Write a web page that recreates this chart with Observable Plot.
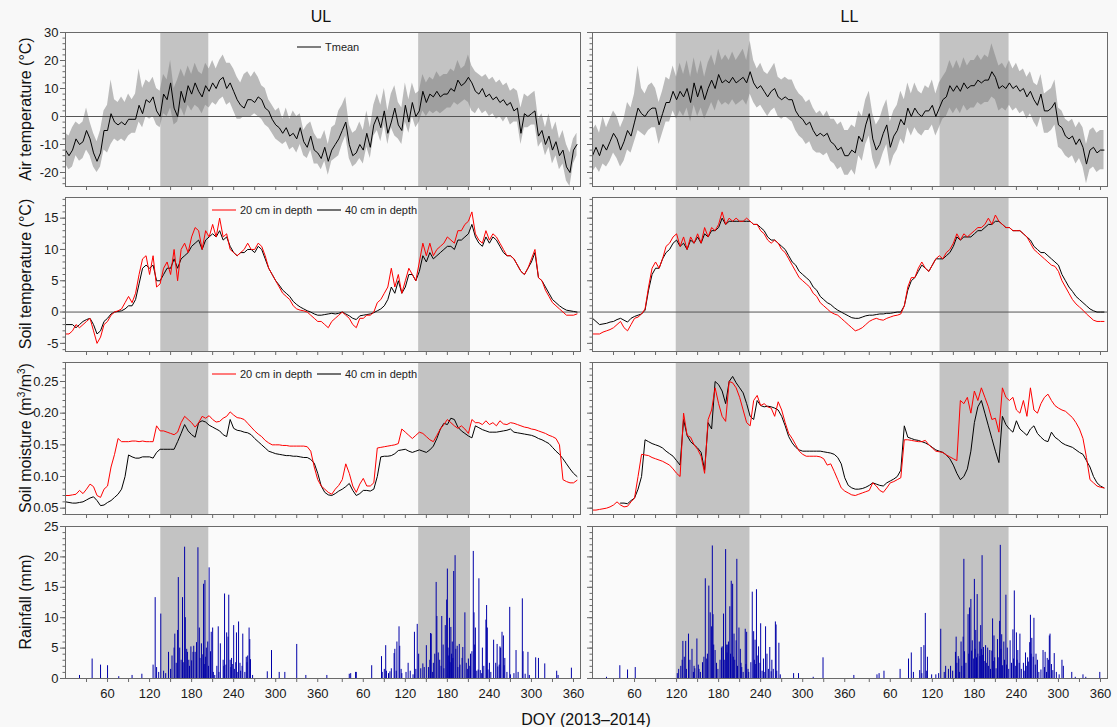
<!DOCTYPE html>
<html><head><meta charset="utf-8">
<script src="https://cdn.jsdelivr.net/npm/d3@7"></script>
<script src="https://cdn.jsdelivr.net/npm/@observablehq/plot@0.6"></script>
<style>
body{margin:0;background:#fff;}
#root{position:relative;width:1117px;height:727px;overflow:hidden;background:#f8f8f8;font-family:"Liberation Sans",Arial,sans-serif;}
</style></head><body><div id="root"></div>
<script>
// ---------------- DATA ----------------
// x = continuous day index: 2013 DOY as-is, 2014 DOY + 365. Series sampled every 5 days (0..730).
const sampleStep = 5;

// Air temperature (°C) – UL
const ulTmean = [-12,-14,-12,-8,-10,-9,-5,-8,-13,-16,-13,-5,-5,1,-2,-3,-2,-3,-1,
 -1,-1,4,1,6,5,7,2,0,8,6,12,3,0,9,5,11,8,12,9,
 7,11,9,12,10,13,14,10,12,9,6,4,3,6,6,5,7,6,3,2,
 -1,-3,-4,-6,-4,-7,-6,-8,-4,-9,-11,-7,-12,-13,-15,-11,-16,-12,-10,-8,
 -5,-2,-10,-14,-13,-10,-12,-6,-11,-3,0,-4,2,-6,-2,3,-3,-5,4,-2,
 5,0,2,9,5,8,7,9,7,8,8,10,9,13,11,12,14,12,9,8,
 10,7,8,6,7,5,6,4,5,2,3,-6,1,0,1,2,-7,-5,-10,-7,
 -12,-9,-14,-12,-18,-20,-12,-10];
const ulTmax = [-6,-7,-4,-2,-3,-2,3,-2,-6,-9,-5,2,4,13,6,5,7,5,8,
 6,8,17,10,13,12,14,10,9,15,13,20,10,13,17,14,18,15,19,16,
 15,19,17,20,17,20,22,19,19,17,14,12,15,16,14,16,14,11,10,6,
 4,2,3,-1,3,-1,2,0,1,-5,-3,-2,-6,-8,-8,-5,-10,-4,-3,2,
 4,7,-3,-6,-5,-2,-5,2,-4,4,8,4,10,2,8,11,5,3,12,6,
 12,8,9,15,12,14,13,16,14,15,15,17,16,20,17,18,22,18,16,15,
 14,15,13,14,12,13,11,12,9,10,9,3,8,7,8,9,-1,1,-4,1,
 -5,-2,-8,-5,-10,-13,-8,-6];
const ulTmin = [-17,-19,-18,-14,-16,-15,-12,-14,-18,-20,-18,-12,-13,-10,-8,-9,-8,-9,-7,
 -6,-6,-2,-4,0,-1,0,-3,-4,1,0,3,-3,-2,3,0,4,2,4,3,
 1,4,3,5,4,6,7,4,5,2,-1,-1,0,0,0,1,0,-1,-3,-4,
 -6,-8,-9,-10,-9,-12,-11,-13,-10,-14,-15,-12,-17,-17,-19,-16,-21,-16,-15,-14,
 -10,-7,-15,-18,-17,-15,-17,-11,-15,-7,-5,-9,-3,-10,-4,-7,-8,-10,-2,-6,
 0,-4,-2,2,0,2,1,2,1,2,3,3,5,4,5,6,5,2,1,3,
 1,2,0,1,-1,0,-2,0,-3,-2,-2,-10,-4,-4,-3,-3,-11,-9,-14,-11,
 -17,-14,-19,-17,-23,-25,-17,-14];

// Air temperature (°C) – LL
const llTmean = [-14,-11,-14,-10,-12,-9,-6,-8,-12,-9,
 -5,-7,-2,3,1,0,2,3,3,-3,
 1,5,5,9,6,9,7,10,5,12,
 7,11,6,10,13,10,15,12,13,12,
 14,12,13,14,12,16,12,10,11,9,
 7,9,10,7,6,7,6,6,2,0,
 -1,-3,-2,-5,-7,-6,-7,-6,-9,-10,
 -12,-11,-14,-14,-12,-13,-7,-9,-3,1,
 -8,-12,-10,-6,-3,-11,-7,-5,-1,-3,
 3,0,3,1,0,2,2,4,0,3,
 6,7,11,9,11,9,12,10,11,11,
 13,12,13,13,16,14,10,11,10,12,
 10,11,9,10,7,9,6,4,8,2,
 2,3,5,-3,-4,-7,-8,-7,-10,-8,
 -11,-17,-12,-11,-13,-12,-12];
const llTmax = [-5,-3,-6,0,-4,-1,2,0,-4,-1,
 5,3,8,18,10,8,11,12,10,5,
 9,14,13,18,14,19,15,20,14,21,
 15,20,14,19,22,18,24,20,22,20,
 23,20,22,24,20,27,20,17,19,16,
 15,17,19,14,13,14,13,13,10,8,
 7,5,6,3,1,2,0,2,-1,-1,
 -3,-2,-5,-5,-3,-4,2,0,6,9,
 1,-3,-1,3,6,-2,2,4,9,6,
 12,8,12,9,8,11,10,13,8,12,
 14,16,20,17,20,17,21,18,20,20,
 22,20,22,21,26,22,18,19,17,20,
 17,19,16,17,14,16,12,11,15,8,
 9,10,13,3,2,-1,-2,-1,-4,-2,
 -4,-10,-5,-4,-6,-5,-5];
const llTmin = [-20,-18,-20,-17,-18,-16,-13,-15,-18,-16,
 -12,-13,-9,-5,-6,-7,-5,-4,-4,-10,
 -6,-2,-2,2,-1,2,0,3,-2,4,
 0,3,-1,2,5,2,6,4,5,4,
 6,4,5,6,4,8,5,3,4,2,
 0,2,3,0,-1,0,-1,-2,-5,-7,
 -8,-10,-9,-12,-13,-13,-14,-13,-16,-17,
 -19,-18,-21,-21,-19,-21,-14,-16,-10,-7,
 -15,-19,-17,-13,-10,-18,-14,-12,-8,-10,
 -4,-7,-4,-6,-7,-5,-5,-3,-7,-4,
 -1,0,3,1,3,1,4,2,3,3,
 5,4,5,5,7,6,2,3,2,4,
 2,3,1,2,-1,1,-2,-4,0,-6,
 -6,-5,-3,-11,-12,-14,-15,-14,-17,-15,
 -18,-24,-19,-18,-20,-19,-19];

// Soil temperature (°C)
const ulSoilT20 = [-3.5,-3.5,-3,-2,-2.5,-2,-1.5,-1,-3,-5,
 -4,-2,-1.5,-0.5,0,0.2,0.5,1.5,2.5,1.5,
 3,6,8.5,9,6,9,4,4.5,7,8,
 6,10,5,10,11,9.5,12,13.5,13,10,
 13,12,14,12,15,12,12.5,10,9.5,9,
 9.5,10,11,10,10,11,10.5,9,7,6,
 5,4,3,2.5,2,1,0.5,0.3,0.2,0,
 -0.5,-1,-1.5,-1.5,-2,-2.5,-1.5,-1,-0.5,0,
 -0.5,-1,-2,-2.5,-1,-1,-0.5,-0.5,0,1.5,
 2,3,4,7,4,6,3,5,7,6,
 5,8,11,9,11,9,10,10.5,11,12,
 11.5,11,13,13,14,14.5,16,12.5,11.5,11,
 13,11.5,12.5,12,11,10,9,9,8.5,7.5,
 6.5,6,7,8.5,10,5.5,5,3.5,2.5,1.5,
 1,0.5,0,-0.5,-0.5,-0.5,-0.3];
const ulSoilT40 = [-2,-2,-2,-2.5,-2,-1.5,-1.2,-1,-2,-3.5,
 -3,-1.5,-1,-0.3,0,0.1,0.2,0.5,1,1,
 2,4.5,7,7.5,7,7.5,5,5,6,7,
 7,8.5,7,8.5,9,9.5,10.5,11,11.5,10,
 11.5,12,12.5,12,13,11.5,12,10.5,9.5,9,
 9.5,9.5,10,10,9.5,10.5,10,8.5,7,6,
 5,4.3,3.5,3,2.5,1.7,1.2,0.8,0.5,0.2,
 0,-0.3,-0.5,-0.5,-0.4,-0.3,-0.2,-0.3,-0.2,0,
 -0.3,-0.6,-1,-1.2,-0.6,-0.5,-0.4,-0.3,-0.1,0.2,
 0.5,1,2,4,3,5,3,4,6,6,
 5,6.5,9,8,9.5,8.5,9,9.5,10,10.5,
 10.5,10,11.5,11.5,12,12.5,14,12,11,10.5,
 12,11,12,11.5,10.5,9.5,9,9,8.5,7.5,
 6.5,6,7,8,9.5,5.5,5,4,3,2,
 1.5,1,0.6,0.3,0.2,0.1,0];
const llSoilT20 = [-3.5,-3.5,-3.5,-3.2,-3,-2.8,-2.5,-2,-1.5,-2.5,
 -3,-2,-1,-0.8,-0.3,0.5,4,7,8,7,
 8.5,10.5,11,12,12.5,10.5,12,10,12,11,
 12.5,11,13.5,12,13.5,13,14,16,14,15,
 14.5,15,14.5,14.5,15,14.5,14,14,13,12.5,
 11.5,11,11.5,11,10,9.5,8.5,7.5,6.5,5.5,
 5,4.5,4,3,2.5,1.5,1,0.5,0,-0.3,
 -0.5,-1,-1.5,-2,-2.5,-3,-2.8,-2.5,-2,-1.5,
 -1.2,-1,-1.2,-1.3,-1,-0.8,-0.6,-0.5,-0.3,1,
 4,5.5,5.5,7,8,7,6.5,7.5,8.5,9,
 8.5,9.5,10,11,12.5,11.5,12.5,12,12.5,13,
 13.5,13.5,14,15,14,15.5,14.5,14,13.5,13.5,
 13,13,13,12.5,12,11,10,9.5,9,8.5,
 8,7.5,7.3,6.5,5,4,3,2,1.3,0.8,
 0.3,-0.3,-0.8,-1.3,-1.5,-1.5,-1.5];
const llSoilT40 = [-1,-1.5,-2,-1.9,-1.8,-1.6,-1.5,-1.2,-1,-1.3,
 -1.6,-1,-0.7,-0.5,-0.3,0.3,3.5,6,7,7,
 8.5,9.5,10,11,11.5,10.5,11,10,11.5,11,
 12,11,12.5,12,13,13,13.5,15,14,14.5,
 14.5,14.5,14.5,14.5,14.5,14.5,14,14,13.5,13,
 12,11.5,11.5,11,10.5,10,9,8,7.5,6.5,
 6,5.5,5,4,3.5,2.5,2,1.5,1.2,0.7,
 0.3,0,-0.3,-0.6,-0.9,-1,-1,-0.8,-0.6,-0.5,
 -0.5,-0.4,-0.3,-0.3,-0.2,-0.2,-0.1,0,0,1,
 3.5,5,5.5,6.5,7.5,7,6.5,7.5,8.5,8.5,
 8.5,9,9.5,10.5,12,11.5,12,12,12,12.5,
 13,13,13.5,14,14,14.5,14.5,14,13.5,13.5,
 13,13,13,12.5,12,11.5,10.5,10,9.5,9.5,
 9,8.5,8,7.5,6,5,4,3.3,2.5,2,
 1.5,1,0.5,0.2,0,0,0];

// Soil moisture (m3/m3)
const ulSM20 = [0.070,0.070,0.071,0.072,0.078,0.073,0.080,0.088,0.084,0.070,
 0.067,0.080,0.085,0.115,0.135,0.160,0.155,0.155,0.155,0.156,
 0.156,0.155,0.156,0.155,0.155,0.155,0.180,0.172,0.172,0.170,
 0.168,0.166,0.170,0.185,0.195,0.190,0.185,0.178,0.185,0.195,
 0.192,0.196,0.190,0.186,0.187,0.192,0.195,0.202,0.197,0.193,
 0.192,0.190,0.184,0.178,0.172,0.167,0.163,0.157,0.153,0.150,
 0.150,0.150,0.149,0.149,0.148,0.148,0.148,0.148,0.148,0.147,
 0.140,0.115,0.095,0.085,0.080,0.075,0.072,0.080,0.086,0.095,
 0.120,0.105,0.085,0.075,0.088,0.097,0.085,0.085,0.090,0.145,
 0.146,0.147,0.148,0.149,0.150,0.152,0.175,0.170,0.165,0.160,
 0.165,0.170,0.168,0.163,0.158,0.155,0.165,0.175,0.182,0.190,
 0.185,0.180,0.176,0.180,0.175,0.168,0.190,0.185,0.185,0.182,
 0.188,0.182,0.185,0.180,0.188,0.183,0.182,0.185,0.184,0.182,
 0.180,0.178,0.177,0.175,0.174,0.172,0.170,0.168,0.165,0.163,
 0.160,0.150,0.095,0.092,0.090,0.090,0.094];
const ulSM40 = [0.060,0.059,0.058,0.058,0.059,0.060,0.063,0.066,0.068,0.062,
 0.054,0.055,0.059,0.062,0.067,0.072,0.080,0.100,0.134,0.131,
 0.129,0.129,0.131,0.131,0.131,0.129,0.138,0.143,0.143,0.143,
 0.143,0.143,0.155,0.168,0.182,0.172,0.166,0.162,0.185,0.188,
 0.186,0.181,0.178,0.175,0.172,0.166,0.163,0.190,0.176,0.173,
 0.172,0.170,0.169,0.166,0.160,0.155,0.150,0.145,0.140,0.138,
 0.136,0.135,0.134,0.133,0.133,0.132,0.132,0.131,0.130,0.130,
 0.127,0.121,0.105,0.085,0.075,0.071,0.070,0.073,0.077,0.080,
 0.084,0.089,0.078,0.070,0.073,0.078,0.078,0.077,0.080,0.100,
 0.131,0.132,0.132,0.133,0.136,0.141,0.142,0.143,0.140,0.138,
 0.140,0.142,0.140,0.138,0.142,0.148,0.160,0.175,0.184,0.182,
 0.192,0.190,0.178,0.172,0.168,0.164,0.161,0.180,0.177,0.174,
 0.172,0.170,0.170,0.170,0.171,0.172,0.173,0.175,0.170,0.169,
 0.168,0.167,0.166,0.165,0.163,0.160,0.158,0.155,0.152,0.146,
 0.140,0.135,0.128,0.120,0.112,0.105,0.100];
const llSM20 = [0.047,0.047,0.048,0.049,0.050,0.052,0.055,0.060,0.055,0.052,
 0.053,0.060,0.066,0.100,0.135,0.134,0.133,0.130,0.128,0.126,
 0.124,0.121,0.118,0.112,0.105,0.100,0.200,0.165,0.162,0.150,
 0.143,0.132,0.105,0.190,0.205,0.240,0.215,0.195,0.187,0.250,
 0.248,0.240,0.225,0.205,0.185,0.180,0.220,0.228,0.212,0.215,
 0.210,0.208,0.195,0.218,0.205,0.185,0.168,0.160,0.150,0.140,
 0.135,0.132,0.132,0.132,0.132,0.131,0.128,0.118,0.120,0.108,
 0.095,0.082,0.077,0.074,0.071,0.070,0.072,0.074,0.076,0.078,
 0.090,0.085,0.078,0.075,0.082,0.090,0.092,0.095,0.098,0.158,
 0.158,0.157,0.156,0.155,0.155,0.157,0.150,0.145,0.140,0.139,
 0.138,0.134,0.131,0.128,0.125,0.220,0.215,0.225,0.200,0.235,
 0.220,0.240,0.225,0.210,0.190,0.192,0.170,0.240,0.225,0.220,
 0.225,0.205,0.200,0.220,0.195,0.240,0.205,0.200,0.215,0.225,
 0.230,0.220,0.212,0.208,0.205,0.203,0.198,0.193,0.185,0.175,
 0.160,0.130,0.095,0.090,0.085,0.083,0.082];
const llSM40 = [null,null,null,null,null,null,null,null,0.058,0.058,
 0.057,0.062,0.066,0.080,0.100,0.158,0.155,0.152,0.150,0.148,
 0.145,0.140,0.136,0.132,0.125,0.118,0.190,0.165,0.155,0.150,
 0.145,0.138,0.110,0.185,0.175,0.250,0.245,0.235,0.215,0.250,
 0.258,0.248,0.240,0.232,0.215,0.195,0.190,0.220,0.212,0.210,
 0.211,0.210,0.208,0.205,0.195,0.180,0.163,0.153,0.146,0.142,
 0.140,0.140,0.140,0.140,0.140,0.140,0.139,0.138,0.137,0.135,
 0.130,0.120,0.098,0.086,0.082,0.080,0.080,0.081,0.083,0.086,
 0.090,0.088,0.086,0.085,0.090,0.093,0.096,0.100,0.110,0.180,
 0.162,0.160,0.158,0.157,0.155,0.153,0.150,0.146,0.142,0.140,
 0.138,0.134,0.128,0.118,0.105,0.095,0.100,0.112,0.140,0.185,
 0.210,0.220,0.200,0.180,0.160,0.140,0.122,0.195,0.182,0.175,
 0.170,0.188,0.175,0.170,0.165,0.175,0.180,0.168,0.162,0.157,
 0.155,0.170,0.162,0.158,0.153,0.150,0.148,0.146,0.142,0.138,
 0.135,0.125,0.115,0.100,0.090,0.085,0.082];

// Rainfall (mm): [day index, mm]
const rainUL = [[20,0.5],[38,3.2],[50,2.2],[60,2.1],[76,0.3],[95,0.5],[109,0.7],[125,2.2],[128,13.3],[130,1.8],[133,1],[136,10.6],[140,1.2],[143,0.8],[147,4.3],[150,1.5],[152,3.7],[155,5],[156,7.3],[158,2.5],[160,7.9],[161,16.6],[163,5],[165,3],[167,13.3],[168,2.6],[170,21.6],[171,10],[173,4.8],[174,4.3],[176,3],[177,2],[179,5.2],[180,2.9],[182,4.3],[183,5.3],[185,4.3],[187,5.9],[189,21.5],[191,8.3],[192,3.3],[194,5.7],[196,3.9],[197,15.5],[198,2.3],[199,16.1],[200,3.5],[201,5],[203,6],[204,2],[205,18.2],[207,4.4],[208,7.6],[210,8.3],[211,1],[213,0.5],[216,2],[218,8.5],[219,1],[221,5.7],[225,3],[226,2],[227,13.9],[229,2.2],[230,7.5],[232,6.8],[233,13.7],[235,3],[236,1.8],[237,3.3],[238,2.3],[240,8.7],[241,1.5],[243,2.6],[244,7.5],[246,1],[247,9.3],[249,2.5],[250,1.2],[252,2],[253,7.3],[256,1],[258,3.5],[259,2.6],[260,3.7],[262,8.3],[263,6.4],[264,3.1],[267,0.5],[288,1.1],[294,4.6],[305,1],[313,1],[330,5.6],[343,0.5],[373,0.5],[405,0.7],[407,0.8],[414,1],[415,1],[437,2.1],[451,3.6],[452,1],[455,1.5],[457,5.4],[458,1.2],[461,0.8],[463,1.1],[465,1.6],[469,4.1],[470,4.8],[472,1.2],[473,6],[476,8.5],[477,5.3],[479,1.5],[480,0.8],[486,1],[489,2.5],[492,1.2],[496,0.6],[498,7.6],[500,1.5],[502,8.9],[504,4],[507,1.6],[510,2.4],[512,1.8],[515,5.4],[518,1.8],[520,3],[521,7.4],[522,7.3],[524,1],[525,2.5],[527,4],[529,15.8],[530,10.2],[532,4.2],[534,3],[536,2],[537,10.2],[539,5.5],[540,1.6],[542,8.7],[544,12.9],[545,18],[546,5],[547,3.7],[548,9.9],[549,2.6],[550,8.4],[551,4],[552,6],[553,3.3],[554,17.6],[556,20.2],[557,4.8],[559,5.3],[560,1.8],[562,5.6],[563,2.2],[566,3.3],[567,5.1],[570,10.8],[572,2.5],[574,1.5],[575,3.2],[577,2],[578,4],[580,4.4],[582,20.9],[583,10.8],[584,5.5],[585,8.3],[587,1.2],[589,1.4],[590,16.4],[592,1.3],[594,0.8],[595,5],[597,2],[600,9.6],[601,12],[602,8.3],[603,1.4],[605,2.5],[607,1],[611,6.3],[614,2.5],[616,5.6],[617,1.9],[619,2.2],[620,5.2],[621,5],[623,7.6],[625,7],[626,2.1],[627,3.3],[630,1],[634,11.7],[635,0.6],[640,0.8],[643,4.6],[646,1],[652,13.1],[653,4.4],[656,0.7],[660,4.3],[662,0.5],[671,3.4],[675,3.3],[684,2.4],[701,1.2],[703,0.5],[722,1.7]];
const rainLL = [[20,0.2],[39,2.1],[50,1.4],[61,1.8],[121,0.8],[123,1.5],[126,2],[128,3],[129,6.1],[131,3.5],[133,6.1],[134,1.5],[137,7.3],[139,3],[142,4.8],[144,1],[145,2],[146,1.6],[149,6.5],[151,2.2],[152,1.5],[154,1],[157,2.6],[159,3.5],[161,16.4],[163,3.2],[164,4],[166,15.2],[168,10.8],[170,8.5],[171,21.8],[172,10.5],[173,5.5],[175,4.6],[177,2.5],[179,1.5],[182,3],[184,5],[185,5.2],[187,10.6],[188,3],[190,21.2],[191,5.5],[192,4.2],[193,5.5],[194,6],[196,11.8],[197,4],[198,16],[200,15.5],[201,3.5],[202,7.3],[203,3],[205,6.2],[206,19.6],[207,2],[209,8.3],[211,4.8],[212,2.5],[213,1.8],[215,1],[218,8.1],[219,2.3],[220,7.6],[222,1.5],[223,1],[226,2.6],[228,14.2],[230,7.7],[231,3],[232,6.3],[233,2.3],[234,14.6],[236,3.7],[237,5.2],[239,2.5],[240,9],[242,1.2],[244,3.2],[245,1],[247,8.5],[249,4],[251,1.5],[253,5.1],[255,1.1],[256,3],[258,1.5],[261,9.3],[262,8.8],[263,1.2],[266,5.8],[268,0.6],[287,0.8],[294,0.8],[315,0.2],[329,3.4],[373,0.5],[406,0.6],[409,0.8],[416,1.2],[439,1.5],[451,3.2],[455,4.2],[458,1],[467,1.3],[469,5.1],[470,0.8],[473,5.4],[475,10.7],[477,1.2],[478,3.5],[484,0.6],[490,0.6],[494,0.8],[497,8.1],[502,1],[504,2],[508,1.5],[511,2],[514,1.2],[518,4.3],[519,6.8],[520,2.5],[522,3.6],[523,3.2],[524,1],[526,6],[527,2],[529,6.8],[530,19.6],[531,4.4],[533,2.5],[536,10.5],[537,4],[538,11.6],[540,13],[541,4.5],[542,6.2],[544,3.2],[545,16.3],[546,4.8],[547,7.9],[548,3.4],[549,13.8],[550,4],[552,6],[553,3.6],[554,8.7],[555,4.8],[556,20.2],[557,3.8],[558,5.1],[560,2.8],[561,5.4],[562,2.5],[564,5],[565,2],[567,4.6],[568,1.5],[570,4.5],[571,9.8],[572,2.8],[573,7],[574,3.4],[576,1.6],[578,6.4],[579,3.4],[581,9.4],[582,21.9],[583,4.8],[584,7.2],[585,2.1],[587,6],[588,3],[590,13.7],[591,2.2],[592,5],[594,1.5],[596,6.2],[598,2.5],[600,8],[601,3.2],[602,14.4],[604,2],[605,7.5],[606,3],[607,4.6],[609,2.5],[610,7.3],[612,1.5],[615,2.5],[616,1.2],[618,4.2],[619,2],[621,3.4],[622,2.7],[624,5.9],[625,10.4],[626,4],[627,6.6],[629,3.5],[630,9.9],[632,2.2],[633,4],[635,3],[637,1],[640,1.4],[643,4.6],[645,1.8],[646,4.3],[648,1],[649,3.3],[651,3],[652,7],[653,7.3],[655,2.3],[657,1.3],[659,4.1],[662,1],[666,0.6],[670,3],[672,2],[684,1],[689,0.2],[700,0.6],[704,0.2],[724,1]];

// Shaded periods [start, end] (day index)
const shadeUL = [[136, 204.5], [504, 578]];
const shadeLL = [[119.5, 224.7], [496, 594.5]];

// Axis ticks
const xTickDOY = [30,60,90,120,150,180,210,240,270,300,330,360];
const xLabelDOY = [60,120,180,240,300,360];
const yLabels = ["Air temperature (°C)", "Soil temperature (°C)", "Soil moisture", "Rainfall (mm)"];
const colTitles = ["UL", "LL"];
const xTitle = "DOY (2013\u20132014)";

// ---------------- BUILD ----------------
const FONT = '"Liberation Sans", Arial, sans-serif';
const root = document.getElementById("root");
const XDOM = [0, 735];
const xTicks = [...xTickDOY, ...xTickDOY.map(d => d + 365)];
const xLabelTicks = [...xLabelDOY, ...xLabelDOY.map(d => d + 365)];
const days = d3.range(0, 731, sampleStep);

const airUL = days.map((d, i) => ({day: d, mean: ulTmean[i], lo: ulTmin[i], hi: ulTmax[i]}));
const airLL = days.map((d, i) => ({day: d, mean: llTmean[i], lo: llTmin[i], hi: llTmax[i]}));
const soilTUL = days.map((d, i) => ({day: d, a: ulSoilT20[i], b: ulSoilT40[i]}));
const soilTLL = days.map((d, i) => ({day: d, a: llSoilT20[i], b: llSoilT40[i]}));
const smUL = days.map((d, i) => ({day: d, a: ulSM20[i], b: ulSM40[i]}));
const smLL = days.map((d, i) => ({day: d, a: llSM20[i], b: llSM40[i]}));

const ROWS = [[32, 154], [197, 154], [362, 152], [526, 152]];
const ROWCFG = [
  {dom: [-25, 30], major: [-20,-10,0,10,20,30], minor: d3.range(-24, 31, 2), fmt: d => String(d)},
  {dom: [-6.3, 18.3], major: [-5,0,5,10,15], minor: d3.range(-6, 19, 1), fmt: d => String(d)},
  {dom: [0.04, 0.28], major: [0.05,0.10,0.15,0.20,0.25], minor: d3.range(4, 29, 1).map(v => v / 100), fmt: d => d.toFixed(2)},
  {dom: [0, 25], major: [0,5,10,15,20,25], minor: d3.range(0, 26, 1), fmt: d => String(d)}
];
const AX = "#6a6a6a";

function shadeMarks(shade, dom) {
  return Plot.rect(shade, {x1: d => d[0], x2: d => d[1], y1: dom[0], y2: dom[1], fill: "#c3c3c3"});
}

function panel(col, row, dataMarks) {
  const cfg = ROWCFG[row];
  const [ft, fh] = ROWS[row];
  const fw = 515;
  const fl = col === 0 ? 65 : 592;
  const mT = 8, mB = row === 3 ? 30 : 8, mL = col === 0 ? 65 : 10, mR = 10;
  const [y0, y1] = cfg.dom;
  const pxY = (y1 - y0) / fh;
  const pxX = (XDOM[1] - XDOM[0]) / fw;
  const marks = [
    Plot.rect([0], {x1: XDOM[0], x2: XDOM[1], y1: y0, y2: y1, fill: "#fafafa"}),
    shadeMarks(col === 0 ? shadeUL : shadeLL, cfg.dom),
    ...dataMarks,
    Plot.frame({stroke: AX, strokeWidth: 1}),
    Plot.ruleX(xTicks, {x: d => d, y1: y0, y2: y0 - 4 * pxY, stroke: AX}),
    Plot.ruleY(cfg.minor, {y: d => d, x1: XDOM[0] - 2.5 * pxX, x2: XDOM[0], stroke: AX}),
    Plot.ruleY(cfg.major, {y: d => d, x1: XDOM[0] - 5 * pxX, x2: XDOM[0], stroke: AX})
  ];
  if (col === 0) {
    marks.push(Plot.text(cfg.major, {x: XDOM[0], y: d => d, dx: -7, textAnchor: "end", text: cfg.fmt,
      fontSize: 13, fill: "#1a1a1a", fontFamily: FONT}));
  }
  if (row === 3) {
    marks.push(Plot.text(xLabelTicks, {x: d => d, y: y0, dy: 15, text: d => String(d > 365 ? d - 365 : d),
      fontSize: 13, fill: "#1a1a1a", fontFamily: FONT}));
  }
  const svg = Plot.plot({
    width: mL + fw + mR, height: mT + fh + mB,
    marginTop: mT, marginBottom: mB, marginLeft: mL, marginRight: mR,
    x: {domain: XDOM, axis: null},
    y: {domain: cfg.dom, axis: null},
    style: {background: "transparent", overflow: "visible", fontFamily: FONT},
    marks
  });
  svg.style.position = "absolute";
  svg.style.left = (fl - mL) + "px";
  svg.style.top = (ft - mT) + "px";
  root.appendChild(svg);
}

function airMarks(data) {
  return [
    Plot.areaY(data, {x: "day", y1: "lo", y2: "hi", fill: "#7f7f7f", fillOpacity: 0.52}),
    Plot.ruleY([0], {stroke: "#555", strokeWidth: 1}),
    Plot.line(data, {x: "day", y: "mean", stroke: "#000", strokeWidth: 1})
  ];
}
function pairMarks(data, zero) {
  const m = [];
  if (zero) m.push(Plot.ruleY([0], {stroke: "#555", strokeWidth: 1}));
  m.push(Plot.line(data, {x: "day", y: "b", stroke: "#000", strokeWidth: 1}));
  m.push(Plot.line(data, {x: "day", y: "a", stroke: "#ff0000", strokeWidth: 1}));
  return m;
}
function rainMarks(data) {
  return [Plot.ruleX(data, {x: d => d[0], y1: 0, y2: d => d[1], stroke: "#0000a8", strokeWidth: 1})];
}

panel(0, 0, airMarks(airUL));
panel(1, 0, airMarks(airLL));
panel(0, 1, pairMarks(soilTUL, true));
panel(1, 1, pairMarks(soilTLL, true));
panel(0, 2, pairMarks(smUL, false));
panel(1, 2, pairMarks(smLL, false));
panel(0, 3, rainMarks(rainUL));
panel(1, 3, rainMarks(rainLL));

// ---------------- TEXT OVERLAY ----------------
const ov = d3.select(root).append("svg")
  .attr("width", 1117).attr("height", 727)
  .style("position", "absolute").style("left", "0px").style("top", "0px")
  .style("font-family", FONT).style("pointer-events", "none");

ov.append("text").attr("x", 321).attr("y", 22).attr("text-anchor", "middle")
  .attr("font-size", 16).attr("fill", "#111").text(colTitles[0]);
ov.append("text").attr("x", 849.5).attr("y", 22).attr("text-anchor", "middle")
  .attr("font-size", 16).attr("fill", "#111").text(colTitles[1]);
ov.append("text").attr("x", 586).attr("y", 725).attr("text-anchor", "middle")
  .attr("font-size", 16).attr("fill", "#111").text(xTitle);

const rowCenters = ROWS.map(([t, h]) => t + h / 2);
rowCenters.forEach((cy, i) => {
  const t = ov.append("text")
    .attr("transform", `translate(31,${cy}) rotate(-90)`)
    .attr("text-anchor", "middle").attr("font-size", 16).attr("fill", "#111");
  if (i === 2) {
    t.append("tspan").text(yLabels[2] + " (m");
    t.append("tspan").attr("font-size", 10).attr("dy", -6).text("3");
    t.append("tspan").attr("dy", 6).text("/m");
    t.append("tspan").attr("font-size", 10).attr("dy", -6).text("3");
    t.append("tspan").attr("dy", 6).text(")");
  } else {
    t.text(yLabels[i]);
  }
});

function legendItem(x, y, color, label) {
  ov.append("line").attr("x1", x).attr("x2", x + 24).attr("y1", y).attr("y2", y)
    .attr("stroke", color).attr("stroke-width", 1.5);
  ov.append("text").attr("x", x + 28).attr("y", y + 4).attr("font-size", 11)
    .attr("fill", "#222").text(label);
}
legendItem(297, 47, "#555", "Tmean");
legendItem(212, 210, "#ff5050", "20 cm in depth");
legendItem(317, 210, "#444", "40 cm in depth");
legendItem(212, 374, "#ff5050", "20 cm in depth");
legendItem(317, 374, "#444", "40 cm in depth");
</script></body></html>
